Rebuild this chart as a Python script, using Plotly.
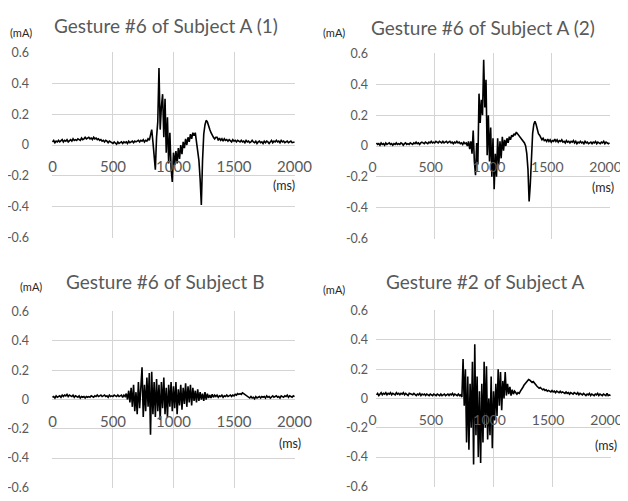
import plotly.graph_objects as go

# ---------------- data ----------------
TIME_MS = list(range(0, 2001, 10))

GESTURE6_A1 = (
    [0.02, 0.03, 0.015, 0.025, 0.02, 0.03, 0.02, 0.025, 0.035, 0.02,
     0.03, 0.025, 0.035, 0.02, 0.03, 0.035, 0.025, 0.04, 0.03, 0.035,
     0.03, 0.04, 0.035, 0.03, 0.045, 0.035, 0.04, 0.05, 0.04, 0.045,
     0.05, 0.04, 0.045, 0.035, 0.05, 0.04, 0.045, 0.035, 0.04, 0.03,
     0.035, 0.025, 0.03, 0.02, 0.03, 0.025, 0.015, 0.025, 0.02, 0.015,
     0.01, 0.02, 0.015, 0.005, 0.02, 0.01, 0.015, 0.02, 0.01, 0.02,
     0.015, 0.02, 0.01, 0.025, 0.015, 0.02, 0.025, 0.015, 0.025, 0.02,
     0.025, 0.03, 0.02, 0.03, 0.025, 0.035, 0.02, 0.03, 0.025, 0.04]
    + [0.03, 0.06, 0.1, 0.02, -0.08, -0.16, 0.05, 0.15, 0.5, 0.1,
       0.25, 0.33, 0.05, 0.3, -0.05, 0.18, -0.12, 0.08, -0.15, -0.24,
       -0.05, -0.13, -0.04, -0.12, -0.02, -0.09, 0.0, -0.06, 0.02, -0.02,
       0.04, 0.0, 0.05, 0.02, 0.07, 0.04, 0.08, 0.06, 0.08, 0.03,
       -0.02, -0.1, -0.22, -0.39, -0.1, 0.07, 0.13, 0.16, 0.15, 0.12,
       0.1, 0.08, 0.06, 0.05, 0.04, 0.05]
    + [0.05, 0.03, 0.045, 0.03, 0.04, 0.025, 0.04, 0.03, 0.035, 0.025,
       0.035, 0.03, 0.02, 0.035, 0.025, 0.03, 0.02, 0.03, 0.025, 0.02,
       0.03, 0.02, 0.025, 0.015, 0.03, 0.02, 0.025, 0.015, 0.02, 0.03,
       0.02, 0.015, 0.025, 0.01, 0.02, 0.025, 0.015, 0.02, 0.01, 0.025,
       0.015, 0.025, 0.02, 0.01, 0.02, 0.03, 0.015, 0.025, 0.02, 0.03,
       0.02, 0.025, 0.015, 0.03, 0.02, 0.025, 0.015, 0.02, 0.025, 0.015,
       0.02, 0.025, 0.015, 0.02, 0.02]
)

GESTURE6_A2 = (
    [0.02, 0.01, 0.015, 0.005, 0.02, 0.01, 0.015, 0.005, 0.02, 0.01,
     0.015, 0.02, 0.01, 0.015, 0.005, 0.015, 0.01, 0.02, 0.01, 0.015,
     0.01, 0.02, 0.015, 0.005, 0.015, 0.02, 0.01, 0.015, 0.01, 0.02,
     0.015, 0.01, 0.02, 0.015, 0.025, 0.015, 0.02, 0.01, 0.02, 0.025,
     0.02, 0.015, 0.025, 0.02, 0.015, 0.025, 0.02, 0.03, 0.02, 0.025,
     0.02, 0.03, 0.025, 0.02, 0.03, 0.025, 0.02, 0.03, 0.02, 0.025,
     0.03, 0.02, 0.025, 0.03, 0.02, 0.025, 0.015, 0.025, 0.02, 0.03,
     0.02, 0.025, 0.015, 0.02, 0.01, 0.025, 0.015, 0.02, 0.0, 0.03]
    + [-0.02, 0.03, -0.05, 0.1, -0.1, -0.19, 0.02, -0.12, 0.34, 0.15,
       0.3, 0.2, 0.56, 0.25, 0.43, -0.06, 0.2, -0.1, 0.12, -0.2,
       0.05, -0.28, -0.05, -0.2, 0.05, -0.12, 0.03, -0.08, 0.06, -0.03,
       0.04, 0.0, 0.05, 0.02, 0.06, 0.04, 0.07, 0.06, 0.08, 0.07,
       0.09, 0.08, 0.07, 0.06, 0.05, 0.04, 0.03, 0.02, 0.0, -0.05,
       -0.15, -0.36, -0.25, -0.05, 0.08, 0.14, 0.16, 0.14, 0.11, 0.08,
       0.07, 0.05, 0.04, 0.05, 0.035, 0.04]
    + [0.03, 0.045, 0.03, 0.04, 0.025, 0.035, 0.03, 0.045, 0.03, 0.04,
       0.025, 0.035, 0.03, 0.04, 0.025, 0.03, 0.02, 0.035, 0.025, 0.03,
       0.02, 0.03, 0.025, 0.035, 0.02, 0.03, 0.015, 0.025, 0.02, 0.03,
       0.02, 0.025, 0.015, 0.03, 0.02, 0.025, 0.015, 0.02, 0.025, 0.015,
       0.025, 0.02, 0.03, 0.015, 0.025, 0.02, 0.015, 0.025, 0.02, 0.03,
       0.015, 0.025, 0.02, 0.015, 0.02]
)

GESTURE6_B = (
    [0.015, 0.02, 0.01, 0.025, 0.015, 0.02, 0.025, 0.015, 0.03, 0.02,
     0.03, 0.025, 0.035, 0.02, 0.03, 0.025, 0.02, 0.03, 0.015, 0.025,
     0.02, 0.015, 0.025, 0.01, 0.02, 0.015, 0.02, 0.01, 0.02, 0.015,
     0.02, 0.015, 0.025, 0.02, 0.015, 0.025, 0.02, 0.03, 0.02, 0.025,
     0.03, 0.02, 0.025, 0.03, 0.02, 0.025, 0.015, 0.03, 0.02, 0.025,
     0.02, 0.03, 0.025, 0.02, 0.03, 0.02, 0.025, 0.03, 0.015, 0.03]
    + [0.02, 0.04, 0.0, 0.06, -0.02, 0.08, -0.05, 0.1, -0.08, 0.05,
       -0.1, 0.12, -0.06, 0.08, 0.22, -0.12, 0.1, -0.08, 0.15, -0.05,
       0.18, -0.24, 0.19, -0.1, 0.12, -0.12, 0.14, -0.08, 0.1, -0.14,
       0.12, -0.06, 0.15, -0.1, 0.08, -0.12, 0.1, -0.05, 0.12, -0.08,
       0.09, -0.06, 0.12, -0.1, 0.07, -0.04, 0.1, -0.07, 0.08, -0.03,
       0.11, -0.05, 0.09, -0.02, 0.1, -0.04, 0.08, -0.01, 0.06, -0.02,
       0.07, -0.01, 0.05, 0.0, 0.04, -0.01, 0.05, 0.0, 0.04, 0.01,
       0.03, 0.01, 0.035, 0.015, 0.03]
    + [0.02, 0.03, 0.015, 0.025, 0.02, 0.03, 0.015, 0.025, 0.02, 0.03,
       0.02, 0.025, 0.03, 0.02, 0.03, 0.025, 0.035, 0.03, 0.04, 0.035,
       0.04, 0.035, 0.045, 0.04, 0.035, 0.03, 0.02, 0.015, 0.01, 0.02,
       0.01, 0.015, 0.005, 0.02, 0.01, 0.015, 0.02, 0.01, 0.02, 0.015,
       0.02, 0.01, 0.025, 0.015, 0.02, 0.01, 0.02, 0.025, 0.015, 0.02,
       0.025, 0.015, 0.02, 0.01, 0.025, 0.02, 0.015, 0.025, 0.02, 0.03,
       0.015, 0.025, 0.02, 0.015, 0.025, 0.02]
)

GESTURE2_A = (
    [0.025, 0.035, 0.02, 0.03, 0.04, 0.025, 0.035, 0.03, 0.04, 0.025,
     0.035, 0.03, 0.04, 0.025, 0.035, 0.03, 0.025, 0.04, 0.03, 0.035,
     0.025, 0.035, 0.03, 0.04, 0.025, 0.035, 0.03, 0.02, 0.035, 0.03,
     0.03, 0.025, 0.035, 0.03, 0.02, 0.03, 0.025, 0.035, 0.02, 0.03,
     0.025, 0.03, 0.02, 0.03, 0.025, 0.02, 0.03, 0.025, 0.02, 0.03,
     0.025, 0.02, 0.03, 0.025, 0.02, 0.03, 0.02, 0.025, 0.03, 0.02,
     0.025, 0.03, 0.02, 0.03, 0.025, 0.035, 0.02, 0.03, 0.025, 0.02,
     0.03, 0.02, 0.025, 0.01]
    + [0.27, -0.05, 0.2, -0.3, 0.15, -0.35,
       0.1, -0.2, 0.25, -0.45, 0.37, -0.25, 0.15, -0.4, 0.05, -0.44,
       0.1, -0.3, 0.25, -0.2, 0.22, -0.28, 0.0, -0.25, 0.15, -0.34,
       0.05, -0.15, 0.1, -0.12, 0.2, -0.05, 0.18, -0.08, 0.12, 0.0,
       0.18, 0.02, 0.1, 0.03, 0.08, 0.02, 0.06, 0.03, 0.05, 0.04]
    + [0.03, 0.04, 0.035, 0.05, 0.06, 0.075, 0.09, 0.1, 0.115, 0.12,
       0.13, 0.125, 0.12, 0.11, 0.115, 0.1, 0.095, 0.085, 0.08, 0.07,
       0.075, 0.065, 0.06, 0.065, 0.055, 0.06, 0.05, 0.055, 0.05, 0.045,
       0.055, 0.045, 0.05, 0.04, 0.05, 0.045, 0.04, 0.05, 0.04, 0.045,
       0.04, 0.035, 0.045, 0.035, 0.04, 0.03, 0.04, 0.035, 0.03, 0.04,
       0.035, 0.03, 0.04, 0.025, 0.035, 0.03, 0.025, 0.035, 0.03, 0.02,
       0.03, 0.025, 0.035, 0.02, 0.03, 0.025, 0.02, 0.03, 0.025, 0.035,
       0.02, 0.03, 0.025, 0.02, 0.03, 0.025, 0.02, 0.035, 0.02, 0.025,
       0.02]
)

TITLES = ["Gesture #6 of Subject A (1)", "Gesture #6 of Subject A (2)",
          "Gesture #6 of Subject B", "Gesture #2 of Subject A"]
SERIES = [GESTURE6_A1, GESTURE6_A2, GESTURE6_B, GESTURE2_A]
X_TICKS = [0, 500, 1000, 1500, 2000]
X_TICK_LABELS = ["0", "500", "1000", "1500", "2000"]
Y_TICKS = [-0.6, -0.4, -0.2, 0, 0.2, 0.4, 0.6]
Y_TICK_LABELS = ["-0.6", "-0.4", "-0.2", "0", "0.2", "0.4", "0.6"]
Y_UNIT = "(mA)"
X_UNIT = "(ms)"

for s in SERIES:
    assert len(s) == len(TIME_MS), len(s)

# ---------------- layout ----------------
W, H = 628, 501
OFFSET = 8  # the page body margin shifts the figure by this many pixels
FONT = "Lato"
GREY = "#595959"
GRID = "#d4d4d4"

def px(x):
    return (x - OFFSET) / W

def py(y):
    return 1 - (y - OFFSET) / H

# plot-area boxes in screen pixels: left, right, top, bottom
boxes = [(52, 295, 52, 238), (376, 610, 53, 239),
         (52, 295, 311, 488), (376, 611, 310, 487)]
ylab_standoff = [22, 7, 22, 7]
xlab_size = [15, 14, 15, 14]
xlab_shift = [0, -4, 0, -4]
title_pos = [(166, 25), (483, 27), (165, 281), (485, 281)]
ma_pos = [(21, 32), (334, 33), (31, 286), (334, 289)]
ms_pos = [(284, 185), (603, 188), (290, 443), (606, 445)]

fig = go.Figure()
annotations = []
for i, (vals, title) in enumerate(zip(SERIES, TITLES)):
    n = i + 1
    xname = "x" if n == 1 else f"x{n}"
    yname = "y" if n == 1 else f"y{n}"
    fig.add_trace(go.Scatter(x=TIME_MS, y=vals, mode="lines",
                             line=dict(color="black", width=1.6),
                             xaxis=xname, yaxis=yname, showlegend=False,
                             cliponaxis=False))
    l, r, t, b = boxes[i]
    ydom = [py(b), py(t)]
    xk = "xaxis" if n == 1 else f"xaxis{n}"
    yk = "yaxis" if n == 1 else f"yaxis{n}"
    fig.layout[xk] = dict(
        domain=[px(l), px(r)], range=[-4, 2004], anchor="free",
        position=(ydom[0] + ydom[1]) / 2, automargin=False,
        tickvals=X_TICKS, ticktext=X_TICK_LABELS, showgrid=True,
        gridcolor=GRID, gridwidth=1.4, zeroline=False, showline=False,
        ticks="", ticklabelstandoff=11, ticklabelshift=xlab_shift[i],
        tickfont=dict(family=FONT, size=xlab_size[i], color=GREY))
    fig.layout[yk] = dict(
        domain=ydom, range=[-0.604, 0.604], anchor=xname, automargin=False,
        tickvals=Y_TICKS, ticktext=Y_TICK_LABELS, showgrid=True,
        gridcolor=GRID, gridwidth=1.4, zeroline=False, showline=False,
        ticks="", ticklabelstandoff=ylab_standoff[i],
        tickfont=dict(family=FONT, size=12.5, color=GREY))
    annotations.append(dict(text=title, x=px(title_pos[i][0]), y=py(title_pos[i][1]),
                            xref="paper", yref="paper", showarrow=False,
                            xanchor="center", yanchor="middle",
                            font=dict(family=FONT, size=19, color=GREY)))
    annotations.append(dict(text=Y_UNIT, x=px(ma_pos[i][0]), y=py(ma_pos[i][1]),
                            xref="paper", yref="paper", showarrow=False,
                            xanchor="center", yanchor="middle",
                            font=dict(family=FONT, size=11, color="#262626")))
    annotations.append(dict(text=X_UNIT, x=px(ms_pos[i][0]), y=py(ms_pos[i][1]),
                            xref="paper", yref="paper", showarrow=False,
                            xanchor="center", yanchor="middle",
                            font=dict(family=FONT, size=12.5, color="#262626")))

fig.update_layout(width=W, height=H, autosize=False,
                  margin=dict(l=0, r=0, t=0, b=0, pad=0),
                  paper_bgcolor="white", plot_bgcolor="white",
                  annotations=annotations)

fig.write_html("out.html")
